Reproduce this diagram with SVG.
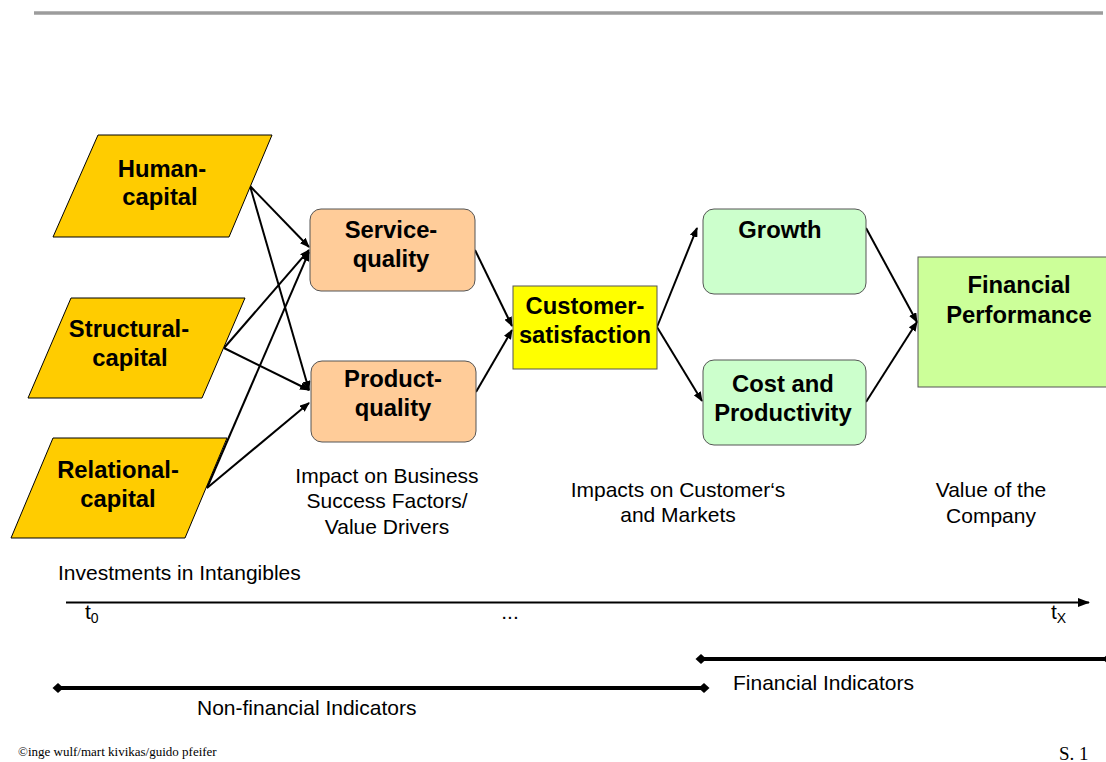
<svg xmlns="http://www.w3.org/2000/svg" width="1106" height="762" viewBox="0 0 1106 762">
  <style>
    .bold { font-family: "Liberation Sans", Arial, sans-serif; font-weight: bold; font-size: 23.8px; fill: #000; text-anchor: middle; }
    .lbl { font-family: "Liberation Sans", Arial, sans-serif; font-size: 21px; fill: #000; }
    .mid { text-anchor: middle; }
    .cap { fill: #FFCC00; stroke: #000; stroke-width: 1; }
    .qual { fill: #FFCC99; stroke: #555; stroke-width: 1; }
    .mkt { fill: #CCFFCC; stroke: #555; stroke-width: 1; }
    .conn { stroke: #000; stroke-width: 2; fill: none; marker-end: url(#arrow); }
    .bar { stroke: #000; stroke-width: 4; marker-start: url(#dia); marker-end: url(#dia); }
    .foot { font-family: "Liberation Serif", "Times New Roman", serif; fill: #000; }
  </style>
  <defs>
    <marker id="arrow" markerUnits="userSpaceOnUse" markerWidth="10" markerHeight="8" refX="9" refY="4" orient="auto">
      <path d="M0,0 L10,4 L0,8 z" fill="#000"/>
    </marker>
    <marker id="arrowBig" markerUnits="userSpaceOnUse" markerWidth="12" markerHeight="9" refX="11" refY="4.5" orient="auto">
      <path d="M0,0 L12,4.5 L0,9 z" fill="#000"/>
    </marker>
    <marker id="dia" markerUnits="userSpaceOnUse" markerWidth="12" markerHeight="12" refX="6" refY="6" orient="auto">
      <path d="M0.5,6 L6,1 L11.5,6 L6,11 z" fill="#000"/>
    </marker>
  </defs>

  <!-- header rule -->
  <line x1="34" y1="13" x2="1103" y2="13" stroke="#9c9c9c" stroke-width="3.5"/>

  <!-- connectors -->
  <g id="connectors">
    <line class="conn" x1="250" y1="186" x2="309" y2="247"/>
    <line class="conn" x1="250" y1="186" x2="309" y2="390"/>
    <line class="conn" x1="224" y1="348" x2="309" y2="250"/>
    <line class="conn" x1="224" y1="348" x2="309" y2="390"/>
    <line class="conn" x1="207" y1="488" x2="309" y2="252"/>
    <line class="conn" x1="207" y1="488" x2="309" y2="403"/>
    <line class="conn" x1="475" y1="250" x2="512" y2="326"/>
    <line class="conn" x1="476" y1="392" x2="512" y2="330"/>
    <line class="conn" x1="657" y1="327" x2="697" y2="228"/>
    <line class="conn" x1="657" y1="327" x2="702" y2="401"/>
    <line class="conn" x1="866" y1="228" x2="917" y2="322"/>
    <line class="conn" x1="866" y1="402" x2="917" y2="322"/>
  </g>

  <!-- intangible capital inputs -->
  <g id="human-capital">
    <polygon class="cap" points="98,135 272,135 229,237 53,237"/>
    <text class="bold" x="162" y="177">Human-</text>
    <text class="bold" x="160" y="205">capital</text>
  </g>
  <g id="structural-capital">
    <polygon class="cap" points="71,298 245,298 202,398 28,398"/>
    <text class="bold" x="129" y="337">Structural-</text>
    <text class="bold" x="130" y="366">capital</text>
  </g>
  <g id="relational-capital">
    <polygon class="cap" points="53,438 227,438 185,538 11,538"/>
    <text class="bold" x="118" y="478">Relational-</text>
    <text class="bold" x="118" y="507">capital</text>
  </g>

  <!-- value drivers -->
  <g id="service-quality">
    <rect class="qual" x="310" y="209" width="165" height="82" rx="11"/>
    <text class="bold" x="391" y="238">Service-</text>
    <text class="bold" x="391" y="267">quality</text>
  </g>
  <g id="product-quality">
    <rect class="qual" x="311" y="361" width="165" height="81" rx="11"/>
    <text class="bold" x="393" y="387">Product-</text>
    <text class="bold" x="393" y="416">quality</text>
  </g>

  <g id="customer-satisfaction">
    <rect x="513" y="286" width="144" height="83" fill="#FFFF00" stroke="#555" stroke-width="1"/>
    <text class="bold" x="585" y="314">Customer-</text>
    <text class="bold" x="585" y="343">satisfaction</text>
  </g>

  <!-- market impacts -->
  <g id="growth">
    <rect class="mkt" x="703" y="209" width="163" height="85" rx="11"/>
    <text class="bold" x="780" y="238">Growth</text>
  </g>
  <g id="cost-productivity">
    <rect class="mkt" x="703" y="360" width="163" height="85" rx="11"/>
    <text class="bold" x="783" y="392">Cost and</text>
    <text class="bold" x="783" y="421">Productivity</text>
  </g>

  <g id="financial-performance">
    <rect x="918" y="257" width="195" height="130" fill="#CCFF99" stroke="#555" stroke-width="1"/>
    <text class="bold" x="1019" y="293">Financial</text>
    <text class="bold" x="1019" y="323">Performance</text>
  </g>

  <!-- stage captions -->
  <g id="captions" class="lbl">
    <text class="mid" x="387" y="483">Impact on Business</text>
    <text class="mid" x="387" y="508">Success Factors/</text>
    <text class="mid" x="387" y="534">Value Drivers</text>
    <text class="mid" x="678" y="497">Impacts on Customer‘s</text>
    <text class="mid" x="678" y="522">and Markets</text>
    <text class="mid" x="991" y="497">Value of the</text>
    <text class="mid" x="991" y="523">Company</text>
    <text x="58" y="580">Investments in Intangibles</text>
  </g>

  <!-- time axis -->
  <g id="timeline">
    <line x1="66" y1="602.5" x2="1089" y2="602.5" stroke="#000" stroke-width="2" marker-end="url(#arrowBig)"/>
    <text class="lbl" x="85" y="619">t<tspan font-size="14" dy="4">0</tspan></text>
    <text class="lbl mid" x="510" y="619">...</text>
    <text class="lbl" x="1051" y="619">t<tspan font-size="14" dy="4">X</tspan></text>
  </g>

  <!-- indicator ranges -->
  <g id="indicators">
    <line class="bar" x1="701" y1="659" x2="1108" y2="659"/>
    <text class="lbl" x="733" y="690">Financial Indicators</text>
    <line class="bar" x1="58" y1="688" x2="704" y2="688"/>
    <text class="lbl" x="197" y="715">Non-financial Indicators</text>
  </g>

  <!-- footer -->
  <text class="foot" x="18" y="756" font-size="13">©inge wulf/mart kivikas/guido pfeifer</text>
  <text class="foot" x="1059" y="760" font-size="19">S. 1</text>
</svg>
